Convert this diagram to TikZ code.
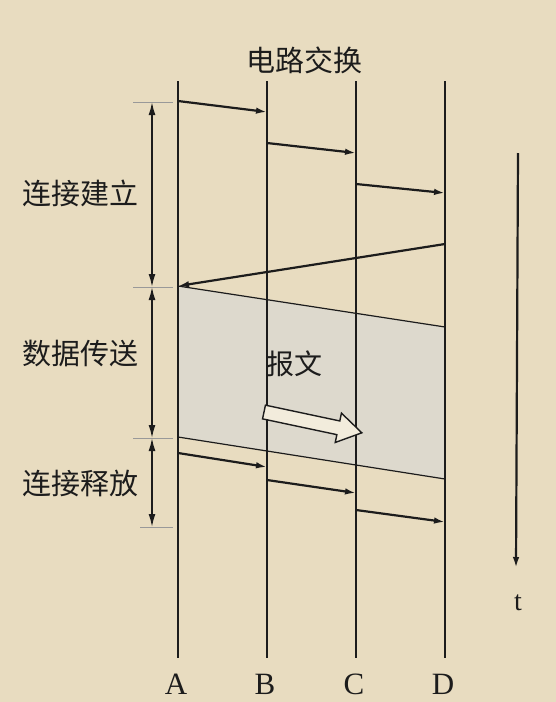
\documentclass[tikz,border=0pt]{standalone}
\usepackage{fontspec}
\setmainfont{Liberation Serif}
\newfontfamily\cjk{Noto Sans CJK SC}
\usetikzlibrary{arrows.meta}
\definecolor{paper}{RGB}{232,220,192}
\definecolor{datagray}{RGB}{221,217,205}
\definecolor{ink}{RGB}{28,28,28}

\begin{document}
\begin{tikzpicture}[
    x=1pt, y=-1pt,
    station/.style={line width=1.6pt, draw=ink},
    msg/.style={line width=2.2pt, draw=ink, -{Latex[length=11pt,width=6.5pt]}},
    span/.style={line width=1.6pt, draw=ink, {Latex[length=13pt,width=7pt]}-{Latex[length=13pt,width=7pt]}},
    tick/.style={line width=0.8pt, draw=ink!45},
    phase/.style={font=\cjk\fontsize{29}{29}\selectfont, text=ink},
    letter/.style={font=\fontsize{31}{31}\selectfont, text=ink}
]
    \fill[paper] (0,0) rectangle (556,702);
    \useasboundingbox (0,0) rectangle (556,702);

    % data transfer band
    \coordinate (dA1) at (178,286);
    \coordinate (dD1) at (445,327);
    \coordinate (dD2) at (445,479);
    \coordinate (dA2) at (178,437);
    \fill[datagray] (dA1) -- (dD1) -- (dD2) -- (dA2) -- cycle;
    \draw[line width=1.2pt, draw=ink] (dA1) -- (dD1);
    \draw[line width=1.2pt, draw=ink] (dA2) -- (dD2);

    % stations
    \foreach \n/\x in {A/178, B/267, C/356, D/445} {
        \coordinate (\n top) at (\x,81);
        \coordinate (\n bot) at (\x,658);
        \draw[station] (\n top) -- (\n bot);
        \node[letter] (\n) at (\x-2,684) {\n};
    }

    \node[phase] (title) at (304,60) {电路交换};

    % connection setup
    \coordinate (a1) at (178,101);
    \coordinate (b1) at (267,112);
    \coordinate (b2) at (267,143);
    \coordinate (c2) at (356,153);
    \coordinate (c3) at (356,184);
    \coordinate (d3) at (445,193);
    \coordinate (d4) at (445,244);
    \draw[msg] (a1) -- (b1);
    \draw[msg] (b2) -- (c2);
    \draw[msg] (c3) -- (d3);
    \draw[msg] (d4) -- (dA1);

    % message
    \node[phase, font=\cjk\fontsize{28}{28}\selectfont] (report) at (294,364) {报文};
    \begin{scope}[shift={(264,412)}, rotate=-12]
        \filldraw[fill=paper!55!white, draw=ink, line width=1.4pt]
            (0,-7) -- (76,-7) -- (76,-15) -- (100,0) -- (76,15) -- (76,7) -- (0,7) -- cycle;
    \end{scope}

    % connection release
    \coordinate (a5) at (178,453);
    \coordinate (b5) at (267,467);
    \coordinate (b6) at (267,480);
    \coordinate (c6) at (356,493);
    \coordinate (c7) at (356,510);
    \coordinate (d7) at (445,522);
    \draw[msg] (a5) -- (b5);
    \draw[msg] (b6) -- (c6);
    \draw[msg] (c7) -- (d7);

    % phase spans
    \foreach \y/\l in {102/133, 287/133, 438/133, 527/140} {
        \draw[tick] (\l,\y) -- (173,\y);
    }
    \coordinate (s0) at (152,102);
    \coordinate (s1) at (152,287);
    \coordinate (s2) at (152,438);
    \coordinate (s3) at (152,527);
    \draw[span] (s0) -- (s1);
    \draw[span] (s1) -- (s2);
    \draw[span] (s2) -- (s3);
    \node[phase] (setup) at (81,193) {连接建立};
    \node[phase] (transfer) at (81,354) {数据传送};
    \node[phase] (release) at (81,483) {连接释放};

    % time axis
    \coordinate (t0) at (518,153);
    \coordinate (t1) at (516,568);
    \draw[msg] (t0) -- (t1);
    \node[letter, font=\fontsize{28}{28}\selectfont] (t) at (518,603) {t};
\end{tikzpicture}
\end{document}
